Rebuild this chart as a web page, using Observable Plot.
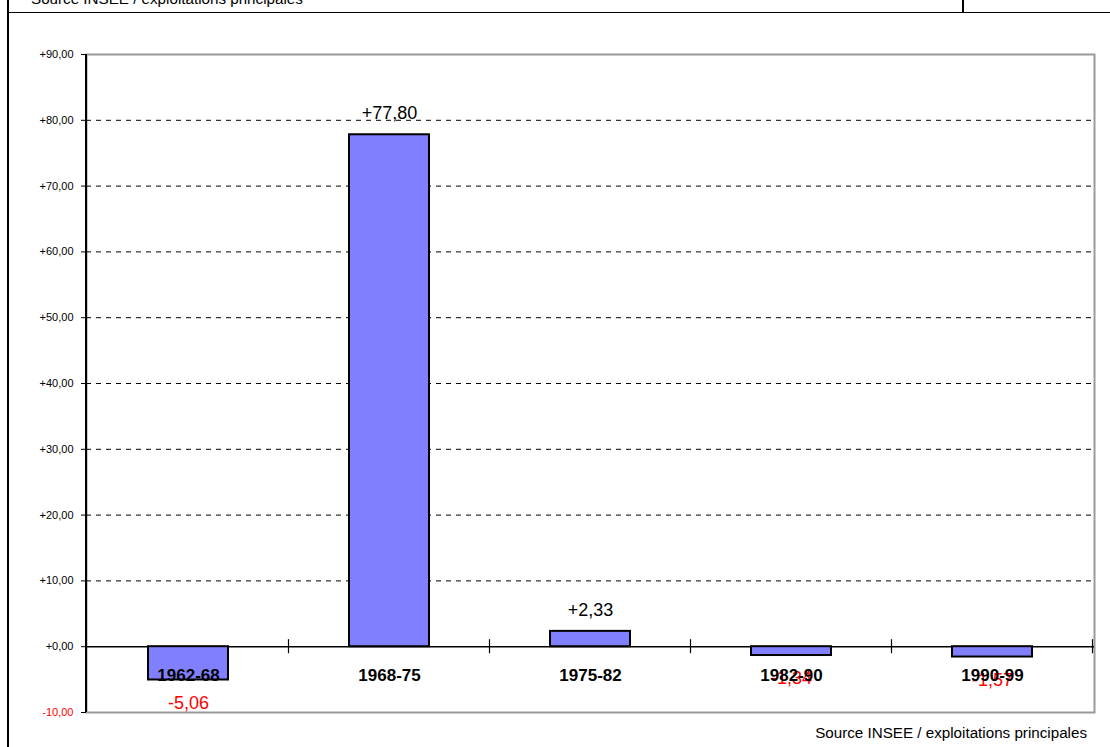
<!DOCTYPE html>
<html><head><meta charset="utf-8">
<script src="https://cdn.jsdelivr.net/npm/d3@7"></script>
<script src="https://cdn.jsdelivr.net/npm/@observablehq/plot@0.6"></script>
<style>
body{margin:0;background:#fff;font-family:"Liberation Sans",Arial,sans-serif;}
#wrap{position:relative;width:1110px;height:747px;overflow:hidden;background:#fff;}
#chart{position:absolute;left:0;top:0;}
.vleft{position:absolute;left:7px;top:0;width:1.5px;height:747px;background:#000;}
.topline{position:absolute;left:7px;top:11.5px;width:1103px;height:1.5px;background:#000;}
.topvert{position:absolute;left:962px;top:0;width:1.5px;height:12px;background:#000;}
.toptext{position:absolute;left:31px;top:-9.5px;font-size:15.2px;line-height:1;white-space:nowrap;color:#000;}
.caption{position:absolute;right:23px;top:724.5px;font-size:15.2px;line-height:1;white-space:nowrap;color:#000;}
</style>
</head><body>
<div id="wrap">
  <div id="chart"></div>
  <div class="vleft"></div>
  <div class="topline"></div>
  <div class="topvert"></div>
  <div class="toptext">Source INSEE / exploitations principales</div>
  <div class="caption">Source INSEE / exploitations principales</div>
</div>
<script>
const categories = ["1962-68", "1968-75", "1975-82", "1982-90", "1990-99"];
const values = [-5.06, 77.80, 2.33, -1.34, -1.57];
const yTicks = [-10, 0, 10, 20, 30, 40, 50, 60, 70, 80, 90];
const gridTicks = [10, 20, 30, 40, 50, 60, 70, 80];

const data = categories.map((c, i) => ({period: c, value: values[i]}));
const fmt = d => (d >= 0 ? "+" : "") + d.toFixed(2).replace(".", ",");

function axisLines(index, scales, vals, dims) {
  const y = scales.y;
  const left = dims.marginLeft, right = dims.width - dims.marginRight;
  let x = scales.x;
  if (!x || typeof x.bandwidth !== "function") {
    x = d3.scaleBand(categories, [left, right]).paddingInner(0.6).paddingOuter(0.3);
  }
  const bw = x.bandwidth(), step = x.step();
  const g = d3.create("svg:g");
  const y0 = y(0);
  categories.forEach(c => {
    const bx = x(c) + bw + (step - bw) / 2;
    g.append("line").attr("x1", bx).attr("x2", bx).attr("y1", y0 - 7).attr("y2", y0 + 7)
      .attr("stroke", "#000").attr("stroke-width", 1.2);
  });
  g.append("line").attr("x1", left).attr("x2", left)
    .attr("y1", y(yTicks[yTicks.length - 1])).attr("y2", y(yTicks[0]))
    .attr("stroke", "#000").attr("stroke-width", 2);
  return g.node();
}

const plot = Plot.plot({
  width: 1110,
  height: 747,
  marginLeft: 86,
  marginRight: 16,
  marginTop: 54,
  marginBottom: 35,
  style: {fontFamily: "'Liberation Sans', Arial, sans-serif", background: "transparent", color: "#000"},
  x: {domain: categories, paddingInner: 0.6, paddingOuter: 0.3, axis: null},
  y: {domain: [-10, 90], label: null},
  marks: [
    Plot.frame({stroke: "#9a9a9a", strokeWidth: 2}),
    Plot.ruleY(gridTicks, {stroke: "#000", strokeWidth: 1, strokeDasharray: "5,5"}),
    Plot.ruleY([0], {stroke: "#000", strokeWidth: 1.5}),
    Plot.barY(data, {x: "period", y: "value", fill: "#8080ff", stroke: "#000", strokeWidth: 2}),
    axisLines,
    Plot.axisY(yTicks.filter(d => d >= 0), {label: null, tickSize: 5, tickPadding: 8, tickFormat: fmt, fontSize: 11, stroke: "#000", fill: "#000"}),
    Plot.axisY(yTicks.filter(d => d < 0), {label: null, tickSize: 5, tickPadding: 8, tickFormat: fmt, fontSize: 11, stroke: "#000", fill: "#ff0000"}),
    Plot.text(data.filter(d => d.value < 0), {x: "period", y: "value", text: d => fmt(d.value), dy: 23, fill: "#ff0000", fontSize: 18}),
    Plot.text(data.filter(d => d.value >= 0), {x: "period", y: "value", text: d => fmt(d.value), dy: -21.5, fill: "#000", fontSize: 18}),
    Plot.text(data, {x: "period", y: () => 0, text: "period", dy: 29, fill: "#000", fontSize: 17, fontWeight: "bold"})
  ]
});
document.getElementById("chart").appendChild(plot);
</script>
</body></html>
